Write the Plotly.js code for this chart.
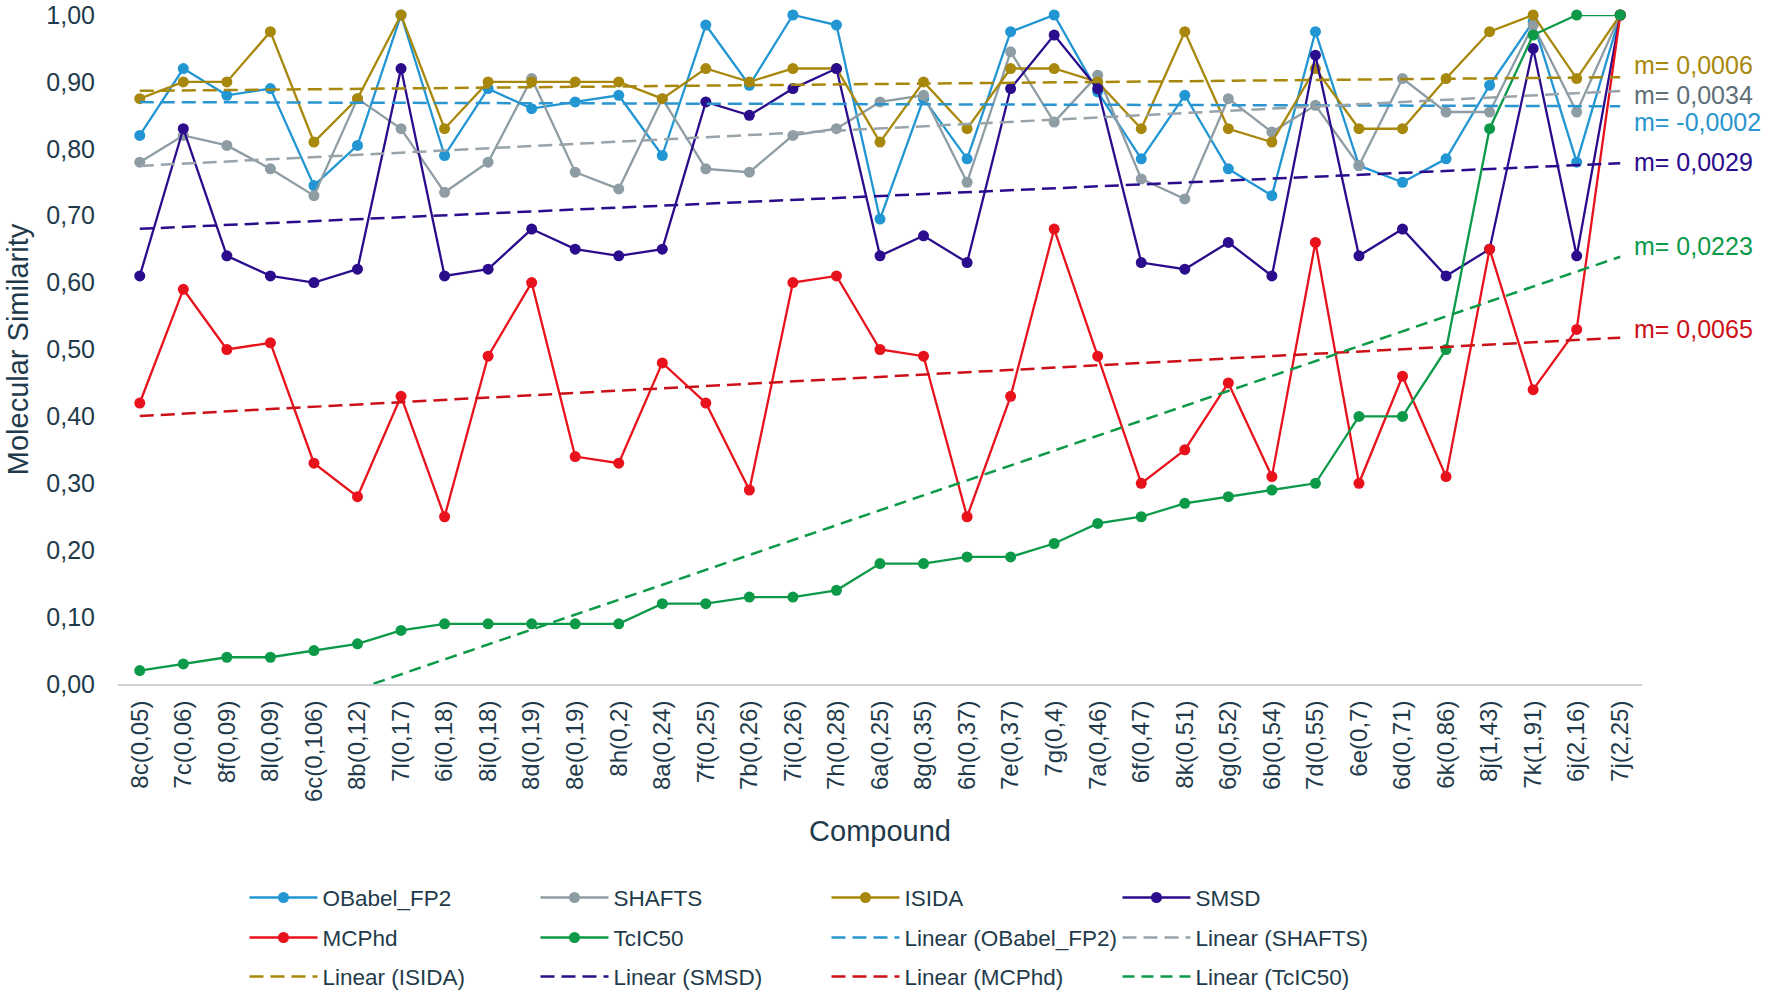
<!DOCTYPE html>
<html>
<head>
<meta charset="utf-8">
<script src="https://cdn.plot.ly/plotly-3.0.1.min.js"></script>
<style>html,body{margin:0;padding:0;background:#fff;}#chart{width:1770px;height:1006px;}</style>
</head>
<body>
<div id="chart"></div>
<script>
const categories = ["8c(0,05)","7c(0,06)","8f(0,09)","8l(0,09)","6c(0,106)","8b(0,12)","7l(0,17)","6i(0,18)","8i(0,18)","8d(0,19)","8e(0,19)","8h(0,2)","8a(0,24)","7f(0,25)","7b(0,26)","7i(0,26)","7h(0,28)","6a(0,25)","8g(0,35)","6h(0,37)","7e(0,37)","7g(0,4)","7a(0,46)","6f(0,47)","8k(0,51)","6g(0,52)","6b(0,54)","7d(0,55)","6e(0,7)","6d(0,71)","6k(0,86)","8j(1,43)","7k(1,91)","6j(2,16)","7j(2,25)"];
const obabelFP2 = [0.82,0.92,0.88,0.89,0.745,0.805,1.00,0.79,0.89,0.86,0.87,0.88,0.79,0.985,0.895,1.00,0.985,0.695,0.875,0.785,0.975,1.00,0.885,0.785,0.88,0.77,0.73,0.975,0.775,0.75,0.785,0.895,0.99,0.78,1.00];
const shafts = [0.78,0.82,0.805,0.77,0.73,0.875,0.83,0.735,0.78,0.905,0.765,0.74,0.875,0.77,0.765,0.82,0.83,0.87,0.88,0.75,0.945,0.84,0.91,0.755,0.725,0.875,0.825,0.865,0.775,0.905,0.855,0.855,0.985,0.855,1.00];
const isida = [0.875,0.90,0.90,0.975,0.81,0.875,1.00,0.83,0.90,0.90,0.90,0.90,0.875,0.92,0.90,0.92,0.92,0.81,0.90,0.83,0.92,0.92,0.90,0.83,0.975,0.83,0.81,0.92,0.83,0.83,0.905,0.975,1.00,0.905,1.00];
const smsd = [0.61,0.83,0.64,0.61,0.60,0.62,0.92,0.61,0.62,0.68,0.65,0.64,0.65,0.87,0.85,0.89,0.92,0.64,0.67,0.63,0.89,0.97,0.89,0.63,0.62,0.66,0.61,0.94,0.64,0.68,0.61,0.65,0.95,0.64,1.00];
const mcphd = [0.42,0.59,0.50,0.51,0.33,0.28,0.43,0.25,0.49,0.60,0.34,0.33,0.48,0.42,0.29,0.60,0.61,0.50,0.49,0.25,0.43,0.68,0.49,0.30,0.35,0.45,0.31,0.66,0.30,0.46,0.31,0.65,0.44,0.53,1.00];
const tcic50 = [0.02,0.03,0.04,0.04,0.05,0.06,0.08,0.09,0.09,0.09,0.09,0.09,0.12,0.12,0.13,0.13,0.14,0.18,0.18,0.19,0.19,0.21,0.24,0.25,0.27,0.28,0.29,0.30,0.40,0.40,0.50,0.83,0.97,1.00,1.00];
const seriesNames = ["OBabel_FP2","SHAFTS","ISIDA","SMSD","MCPhd","TcIC50"];
const slopeLabels = ["m= -0,0002","m= 0,0034","m= 0,0006","m= 0,0029","m= 0,0065","m= 0,0223"];
const slopeLabelY = [0.840,0.880,0.926,0.780,0.530,0.654];
const yTickVals = [0,0.1,0.2,0.3,0.4,0.5,0.6,0.7,0.8,0.9,1.0];
const yTickText = ["0,00","0,10","0,20","0,30","0,40","0,50","0,60","0,70","0,80","0,90","1,00"];

const seriesData = [obabelFP2, shafts, isida, smsd, mcphd, tcic50];
const colors = ["#2196d3","#8e9ca4","#a8880c","#2a0c8c","#e8121c","#0d9a48"];
const trendColors = ["#2b95cf","#98a3aa","#a8880c","#2a0c8c","#cc1018","#0d9a48"];
const labelColors = ["#2b95cf","#5e6e77","#a8880c","#2a0c8c","#cc1018","#0d9a48"];
const trendDash = ["14px,7px","14px,7px","14px,7px","14px,7px","14px,7px","12px,7px"];
const dataLegend = ["legend","legend","legend","legend","legend2","legend2"];
const trendLegend = ["legend2","legend2","legend3","legend3","legend3","legend3"];

function linearFit(y){
  const n = y.length; let sx=0, sy=0, sxx=0, sxy=0;
  for(let i=0;i<n;i++){ const x=i+1; sx+=x; sy+=y[i]; sxx+=x*x; sxy+=x*y[i]; }
  const m = (n*sxy - sx*sy)/(n*sxx - sx*sx);
  const b = (sy - m*sx)/n;
  return y.map((_,i)=> b + m*(i+1));
}

const traces = [];
seriesData.forEach((ys,k)=>{
  traces.push({
    type:'scatter', mode:'lines+markers', x:categories, y:ys, name:seriesNames[k],
    line:{color:colors[k], width:2.3}, marker:{color:colors[k], size:11},
    cliponaxis:false, legend:dataLegend[k]
  });
});
seriesData.forEach((ys,k)=>{
  traces.push({
    type:'scatter', mode:'lines', x:categories, y:linearFit(ys), name:'Linear ('+seriesNames[k]+')',
    line:{color:trendColors[k], width:2.5, dash:trendDash[k]}, legend:trendLegend[k], hoverinfo:'skip'
  });
});

const txt = '#1f3b4b';
const font = 'Arial, "Liberation Sans", sans-serif';
const annotations = slopeLabels.map((t,k)=>({
  text:t, xref:'paper', yref:'y', x:0.9934, y:slopeLabelY[k], xanchor:'left', yanchor:'middle',
  showarrow:false, font:{family:font, size:25, color:labelColors[k]}
}));

const legendCommon = {orientation:'h', xanchor:'left', yanchor:'middle', x:0.083,
  font:{family:font, size:22.5, color:txt},
  entrywidth:208, entrywidthmode:'pixels', itemwidth:68, bgcolor:'rgba(0,0,0,0)', traceorder:'normal'};

const layout = {
  width:1770, height:1006,
  paper_bgcolor:'#fff', plot_bgcolor:'#fff',
  margin:{l:118, r:128, t:15, b:322, autoexpand:false},
  font:{family:font, color:txt},
  showlegend:true,
  xaxis:{type:'category', range:[-0.5,34.5], showgrid:false, zeroline:false, automargin:false,
    showline:true, linecolor:'#c9d1d5', linewidth:2, ticks:'', tickangle:-90,
    tickfont:{family:font, size:24, color:txt}, ticklabelstandoff:5,
    title:{text:'Compound', font:{family:font, size:29, color:txt}, standoff:20}},
  yaxis:{range:[0,1], showgrid:false, zeroline:false, showline:false, ticks:'', automargin:false,
    tickvals:yTickVals, ticktext:yTickText,
    tickfont:{family:font, size:25, color:txt}, ticklabelstandoff:22,
    title:{text:'Molecular Similarity', font:{family:font, size:29, color:txt}, standoff:9}},
  legend:Object.assign({}, legendCommon, {y:-0.3197}),
  legend2:Object.assign({}, legendCommon, {y:-0.3795}),
  legend3:Object.assign({}, legendCommon, {y:-0.4378}),
  annotations:annotations
};

Plotly.newPlot('chart', traces, layout, {displayModeBar:false, staticPlot:true});
</script>
</body>
</html>
